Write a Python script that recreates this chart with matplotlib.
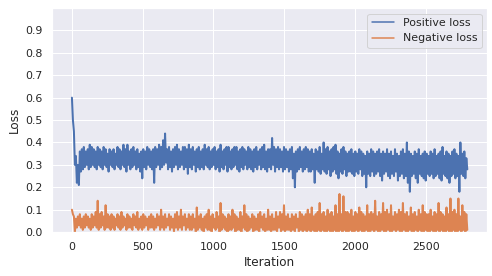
import matplotlib
matplotlib.use("Agg")
import matplotlib.pyplot as plt
import numpy as np
import seaborn as sns

# Losses. The curves are very noisy, so each
# 14-iteration window is kept as its local peak and trough.
window = 14
positive_high = [
    0.60, 0.45, 0.34, 0.30, 0.36, 0.37, 0.38, 0.36, 0.37, 0.39, 0.38, 0.37, 0.36, 0.38, 0.37, 0.36, 0.38, 0.37, 0.35, 0.37,
    0.36, 0.37, 0.35, 0.38, 0.37, 0.36, 0.39, 0.37, 0.39, 0.36, 0.37, 0.38, 0.36, 0.37, 0.35, 0.36, 0.37, 0.36, 0.38, 0.37,
    0.36, 0.37, 0.38, 0.37, 0.39, 0.38, 0.41, 0.44, 0.37, 0.38, 0.36, 0.37, 0.38, 0.39, 0.37, 0.36, 0.38, 0.38, 0.37, 0.39,
    0.37, 0.38, 0.36, 0.37, 0.38, 0.36, 0.37, 0.39, 0.37, 0.38, 0.36, 0.37, 0.38, 0.36, 0.37, 0.39, 0.36, 0.37, 0.38, 0.38,
    0.36, 0.37, 0.38, 0.38, 0.36, 0.37, 0.38, 0.37, 0.36, 0.38, 0.37, 0.36, 0.37, 0.38, 0.36, 0.37, 0.38, 0.39, 0.36, 0.37,
    0.37, 0.42, 0.38, 0.37, 0.38, 0.37, 0.36, 0.38, 0.37, 0.36, 0.37, 0.38, 0.35, 0.36, 0.37, 0.38, 0.36, 0.37, 0.38, 0.37,
    0.36, 0.37, 0.35, 0.37, 0.36, 0.38, 0.35, 0.40, 0.37, 0.38, 0.36, 0.37, 0.38, 0.39, 0.36, 0.35, 0.37, 0.38, 0.36, 0.35,
    0.36, 0.37, 0.35, 0.36, 0.35, 0.37, 0.36, 0.35, 0.34, 0.36, 0.35, 0.37, 0.36, 0.35, 0.36, 0.37, 0.35, 0.36, 0.35, 0.37,
    0.35, 0.36, 0.34, 0.37, 0.35, 0.34, 0.36, 0.37, 0.35, 0.40, 0.36, 0.35, 0.34, 0.36, 0.35, 0.37, 0.34, 0.35, 0.36, 0.35,
    0.34, 0.36, 0.35, 0.37, 0.34, 0.35, 0.36, 0.38, 0.34, 0.36, 0.35, 0.34, 0.36, 0.37, 0.35, 0.34, 0.40, 0.35, 0.36, 0.33,
]
positive_low = [
    0.50, 0.30, 0.22, 0.21, 0.27, 0.28, 0.29, 0.30, 0.28, 0.29, 0.30, 0.29, 0.28, 0.30, 0.29, 0.28, 0.30, 0.29, 0.27, 0.30,
    0.29, 0.28, 0.30, 0.29, 0.28, 0.30, 0.29, 0.27, 0.30, 0.28, 0.29, 0.30, 0.28, 0.29, 0.27, 0.24, 0.29, 0.28, 0.30, 0.29,
    0.28, 0.22, 0.29, 0.30, 0.28, 0.29, 0.30, 0.31, 0.28, 0.29, 0.27, 0.29, 0.30, 0.28, 0.29, 0.30, 0.28, 0.29, 0.26, 0.29,
    0.28, 0.30, 0.27, 0.29, 0.28, 0.29, 0.28, 0.30, 0.29, 0.28, 0.29, 0.30, 0.28, 0.29, 0.27, 0.29, 0.28, 0.30, 0.27, 0.29,
    0.28, 0.29, 0.30, 0.28, 0.27, 0.29, 0.28, 0.30, 0.28, 0.29, 0.28, 0.27, 0.29, 0.28, 0.30, 0.28, 0.29, 0.28, 0.27, 0.29,
    0.28, 0.30, 0.27, 0.29, 0.28, 0.29, 0.27, 0.28, 0.29, 0.27, 0.28, 0.24, 0.20, 0.27, 0.28, 0.29, 0.27, 0.28, 0.29, 0.27,
    0.27, 0.28, 0.22, 0.28, 0.27, 0.26, 0.28, 0.27, 0.26, 0.28, 0.25, 0.27, 0.28, 0.26, 0.24, 0.27, 0.26, 0.28, 0.25, 0.27,
    0.27, 0.26, 0.25, 0.27, 0.26, 0.28, 0.25, 0.26, 0.20, 0.26, 0.25, 0.27, 0.25, 0.26, 0.27, 0.25, 0.23, 0.26, 0.27, 0.25,
    0.24, 0.26, 0.25, 0.27, 0.23, 0.25, 0.26, 0.24, 0.25, 0.22, 0.18, 0.25, 0.26, 0.24, 0.22, 0.26, 0.25, 0.24, 0.23, 0.26,
    0.25, 0.26, 0.24, 0.25, 0.26, 0.24, 0.23, 0.26, 0.25, 0.24, 0.22, 0.25, 0.26, 0.24, 0.25, 0.18, 0.26, 0.25, 0.24, 0.28,
]
negative_high = [
    0.10, 0.07, 0.06, 0.07, 0.08, 0.06, 0.07, 0.08, 0.07, 0.06, 0.08, 0.07, 0.09, 0.14, 0.08, 0.09, 0.07, 0.12, 0.08, 0.07,
    0.08, 0.07, 0.06, 0.08, 0.07, 0.09, 0.07, 0.06, 0.08, 0.07, 0.06, 0.08, 0.07, 0.09, 0.06, 0.07, 0.08, 0.07, 0.06, 0.07,
    0.08, 0.07, 0.06, 0.08, 0.07, 0.10, 0.07, 0.08, 0.06, 0.08, 0.07, 0.06, 0.08, 0.09, 0.07, 0.10, 0.07, 0.08, 0.06, 0.08,
    0.07, 0.08, 0.06, 0.11, 0.07, 0.08, 0.06, 0.07, 0.08, 0.10, 0.07, 0.08, 0.06, 0.09, 0.07, 0.13, 0.08, 0.07, 0.06, 0.08,
    0.07, 0.10, 0.08, 0.07, 0.06, 0.09, 0.07, 0.12, 0.08, 0.07, 0.06, 0.08, 0.07, 0.06, 0.08, 0.09, 0.07, 0.08, 0.06, 0.10,
    0.07, 0.08, 0.06, 0.09, 0.07, 0.09, 0.08, 0.12, 0.07, 0.08, 0.06, 0.08, 0.07, 0.08, 0.06, 0.09, 0.08, 0.07, 0.08, 0.10,
    0.08, 0.11, 0.07, 0.08, 0.09, 0.13, 0.08, 0.09, 0.07, 0.10, 0.08, 0.09, 0.07, 0.12, 0.08, 0.17, 0.08, 0.16, 0.09, 0.09,
    0.08, 0.10, 0.07, 0.09, 0.08, 0.11, 0.09, 0.08, 0.07, 0.12, 0.08, 0.09, 0.08, 0.14, 0.07, 0.09, 0.08, 0.13, 0.09, 0.10,
    0.08, 0.12, 0.07, 0.09, 0.08, 0.10, 0.09, 0.13, 0.08, 0.09, 0.07, 0.11, 0.08, 0.09, 0.07, 0.10, 0.08, 0.12, 0.09, 0.08,
    0.08, 0.10, 0.07, 0.09, 0.08, 0.13, 0.09, 0.08, 0.07, 0.11, 0.08, 0.15, 0.09, 0.10, 0.08, 0.15, 0.07, 0.12, 0.09, 0.08,
]
negative_low = [
    0.08, 0.00, 0.02, 0.03, 0.02, 0.01, 0.02, 0.03, 0.02, 0.01, 0.02, 0.03, 0.02, 0.01, 0.02, 0.03, 0.01, 0.02, 0.02, 0.01,
    0.02, 0.01, 0.03, 0.02, 0.01, 0.02, 0.03, 0.01, 0.02, 0.02, 0.01, 0.03, 0.02, 0.01, 0.02, 0.01, 0.02, 0.03, 0.01, 0.02,
    0.02, 0.01, 0.02, 0.03, 0.01, 0.02, 0.01, 0.02, 0.03, 0.01, 0.02, 0.00, 0.02, 0.01, 0.02, 0.01, 0.03, 0.01, 0.02, 0.01,
    0.01, 0.02, 0.00, 0.01, 0.02, 0.01, 0.00, 0.02, 0.01, 0.01, 0.00, 0.02, 0.01, 0.02, 0.00, 0.01, 0.02, 0.01, 0.00, 0.01,
    0.01, 0.02, 0.00, 0.01, 0.01, 0.00, 0.02, 0.01, 0.00, 0.01, 0.02, 0.00, 0.01, 0.01, 0.00, 0.02, 0.01, 0.00, 0.01, 0.01,
    0.00, 0.01, 0.01, 0.00, 0.02, 0.00, 0.01, 0.00, 0.01, 0.01, 0.00, 0.01, 0.00, 0.02, 0.00, 0.01, 0.00, 0.01, 0.00, 0.01,
    0.00, 0.01, 0.00, 0.00, 0.01, 0.00, 0.01, 0.00, 0.00, 0.01, 0.00, 0.00, 0.01, 0.00, 0.00, 0.01, 0.00, 0.01, 0.00, 0.00,
    0.01, 0.00, 0.00, 0.01, 0.00, 0.01, 0.00, 0.00, 0.01, 0.00, 0.00, 0.01, 0.00, 0.01, 0.00, 0.00, 0.01, 0.00, 0.00, 0.01,
    0.00, 0.00, 0.01, 0.00, 0.01, 0.00, 0.00, 0.01, 0.00, 0.00, 0.01, 0.00, 0.00, 0.01, 0.00, 0.01, 0.00, 0.00, 0.01, 0.00,
    0.00, 0.01, 0.00, 0.00, 0.01, 0.00, 0.01, 0.00, 0.00, 0.01, 0.00, 0.00, 0.01, 0.00, 0.00, 0.01, 0.00, 0.01, 0.00, 0.01,
]

window_start = np.arange(len(positive_high)) * window


def interleave(highs, lows):
    # peak at the start of each window, trough half-way through it
    x = np.column_stack([window_start, window_start + window / 2]).ravel()
    y = np.column_stack([highs, lows]).ravel()
    return x, y


sns.set_theme(style="darkgrid")

fig, ax = plt.subplots(figsize=(492 / 72, 276 / 72), dpi=72)
ax.plot(*interleave(positive_high, positive_low), lw=2, label="Positive loss")
ax.plot(*interleave(negative_high, negative_low), lw=2, label="Negative loss")

ax.set_ylim(0, 1.0)
ax.set_yticks(np.arange(0, 1.0, 0.1))
ax.set_xlabel("Iteration")
ax.set_ylabel("Loss")
leg = ax.legend(loc="upper right")
for line in leg.get_lines():
    line.set_linewidth(1.5)

fig.subplots_adjust(left=0.106, right=0.99, top=0.971, bottom=0.159)
fig.savefig("out.png", dpi=72)
